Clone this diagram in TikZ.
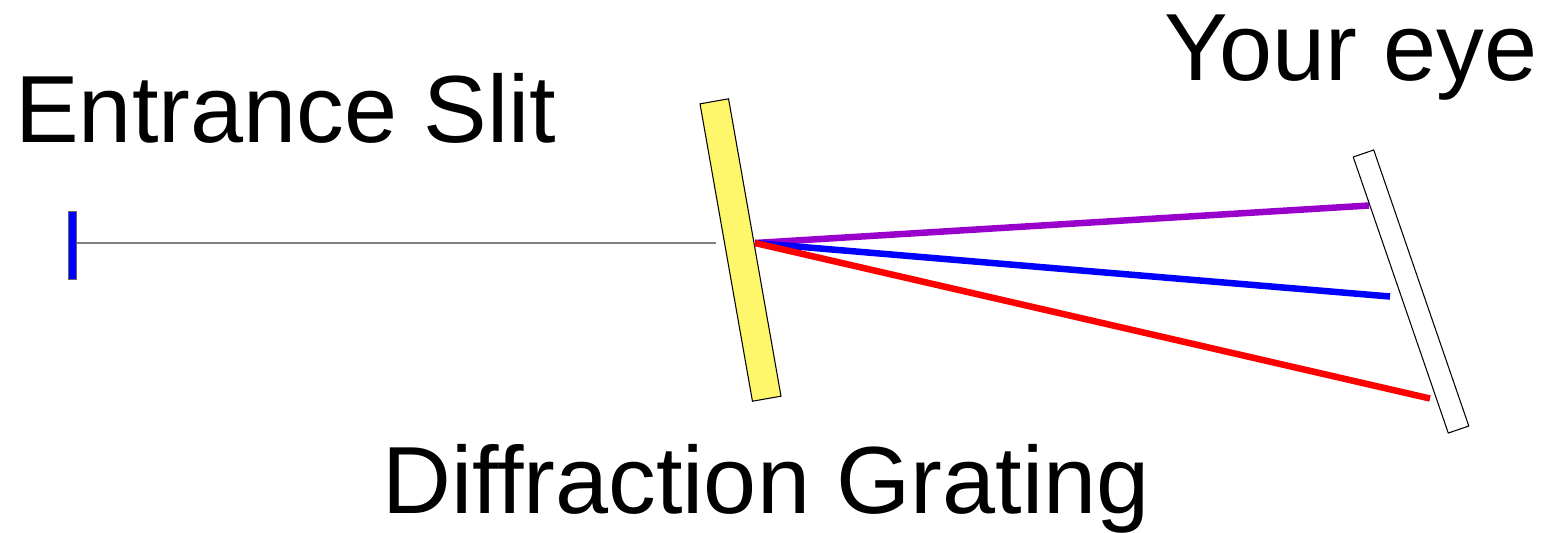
\documentclass[tikz,border=0pt]{standalone}
\usepackage{fontspec}
\setmainfont{Liberation Sans}
\usetikzlibrary{positioning}

\begin{document}
\begin{tikzpicture}[
    x=0.02cm, y=-0.02cm,
    plate/.style={draw, rectangle, inner sep=0pt, line width=0.6pt},
    ray/.style={line width=3.7pt},
    label/.style={anchor=base west, inner sep=0pt, font=\fontsize{54.3}{60}\selectfont}
]
    \useasboundingbox (0,0) rectangle (1554,532);

    % Entrance side
    \node [rectangle, fill=blue, draw=black!60, line width=0.3pt, inner sep=0pt, minimum width=0.165cm, minimum height=1.37cm] (slit) at (72.5,245) {};
    \coordinate (incoming) at (716,243);
    \coordinate (origin) at (755,243);

    % Optical parts
    \node [plate, fill=yellow!58, minimum width=0.58cm, minimum height=6.04cm, rotate=10] (grating) at (740.5,250) {};
    \coordinate (purpleend) at (1369,205.5);
    \coordinate (blueend) at (1390,296.5);
    \coordinate (redend) at (1430,398.5);

    % Rays
    \draw [gray, line width=0.8pt] (slit.east |- incoming) -- (incoming);
    \draw [ray, color={rgb,255:red,153;green,0;blue,204}] (origin) -- (purpleend);
    \draw [ray, blue] (origin) -- (blueend);
    \draw [ray, red] (origin) -- (redend);

    % Screen
    \node [plate, minimum width=0.434cm, minimum height=5.84cm, rotate=19] (eye) at (1411,291.5) {};

    % Labels
    \node [label] (slitlabel) at (15,142) {Entrance Slit};
    \node [label] (gratinglabel) at (382,513) {Diffraction Grating};
    \node [label] (eyelabel) at (1164,80) {Your eye};
\end{tikzpicture}
\end{document}
